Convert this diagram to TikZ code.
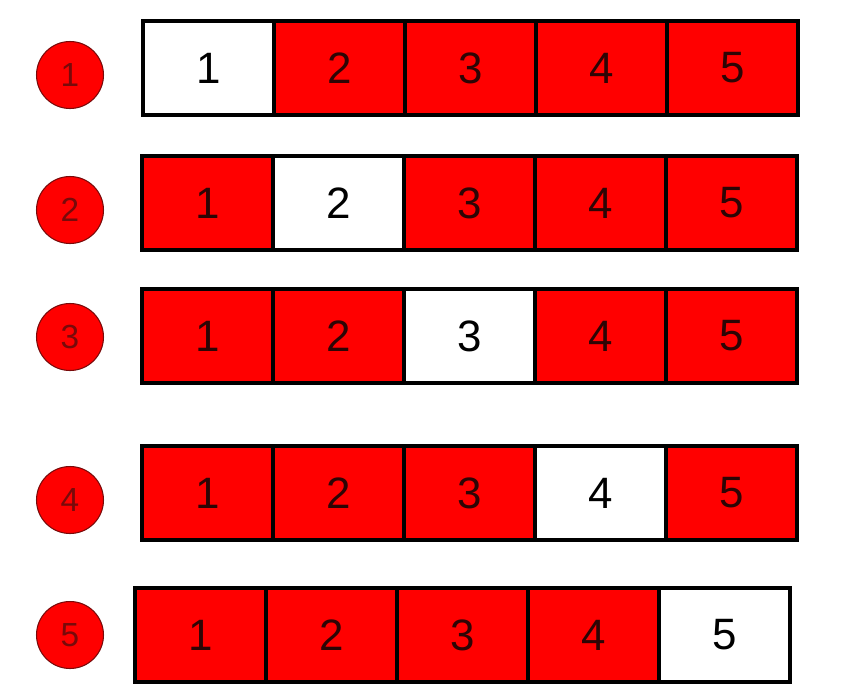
\documentclass[tikz,border=0pt]{standalone}
\usepackage{fontspec}
\setmainfont{Liberation Sans}
\usetikzlibrary{positioning}

\definecolor{boxred}{RGB}{255,0,0}
\definecolor{numdark}{RGB}{45,5,5}
\definecolor{badgeedge}{RGB}{120,10,10}

\tikzset{
    cell/.style={draw=black, line width=2pt, fill=boxred,
        minimum width=2.62cm, minimum height=1.88cm,
        inner sep=0pt, outer sep=0pt,
        font=\fontsize{25}{25}\selectfont, text=numdark},
    hole/.style={cell, fill=white, text=black},
    badge/.style={circle, draw=badgeedge, line width=0.6pt, fill=boxred,
        minimum size=1.34cm, inner sep=0pt,
        font=\fontsize{19}{19}\selectfont, text=badgeedge}
}

\begin{document}
\begin{tikzpicture}[x=0.02cm, y=-0.02cm]
        \useasboundingbox (0,0) rectangle (859,697);

        % row 1
        \node[hole, anchor=north west] (r1c1) at (143,21) {1};
        \node[cell, right=0pt of r1c1] (r1c2) {2};
        \node[cell, right=0pt of r1c2] (r1c3) {3};
        \node[cell, right=0pt of r1c3] (r1c4) {4};
        \node[cell, right=0pt of r1c4] (r1c5) {5};

        % row 2
        \node[cell, anchor=north west] (r2c1) at (142,156) {1};
        \node[hole, right=0pt of r2c1] (r2c2) {2};
        \node[cell, right=0pt of r2c2] (r2c3) {3};
        \node[cell, right=0pt of r2c3] (r2c4) {4};
        \node[cell, right=0pt of r2c4] (r2c5) {5};

        % row 3
        \node[cell, anchor=north west] (r3c1) at (142,289) {1};
        \node[cell, right=0pt of r3c1] (r3c2) {2};
        \node[hole, right=0pt of r3c2] (r3c3) {3};
        \node[cell, right=0pt of r3c3] (r3c4) {4};
        \node[cell, right=0pt of r3c4] (r3c5) {5};

        % row 4
        \node[cell, anchor=north west] (r4c1) at (142,446) {1};
        \node[cell, right=0pt of r4c1] (r4c2) {2};
        \node[cell, right=0pt of r4c2] (r4c3) {3};
        \node[hole, right=0pt of r4c3] (r4c4) {4};
        \node[cell, right=0pt of r4c4] (r4c5) {5};

        % row 5
        \node[cell, anchor=north west] (r5c1) at (135,588) {1};
        \node[cell, right=0pt of r5c1] (r5c2) {2};
        \node[cell, right=0pt of r5c2] (r5c3) {3};
        \node[cell, right=0pt of r5c3] (r5c4) {4};
        \node[hole, right=0pt of r5c4] (r5c5) {5};

        % step numbers
        \node[badge] (s1) at (70,75) {1};
        \node[badge] (s2) at (70,210) {2};
        \node[badge] (s3) at (70,337) {3};
        \node[badge] (s4) at (70,500) {4};
        \node[badge] (s5) at (70,635) {5};
\end{tikzpicture}
\end{document}
